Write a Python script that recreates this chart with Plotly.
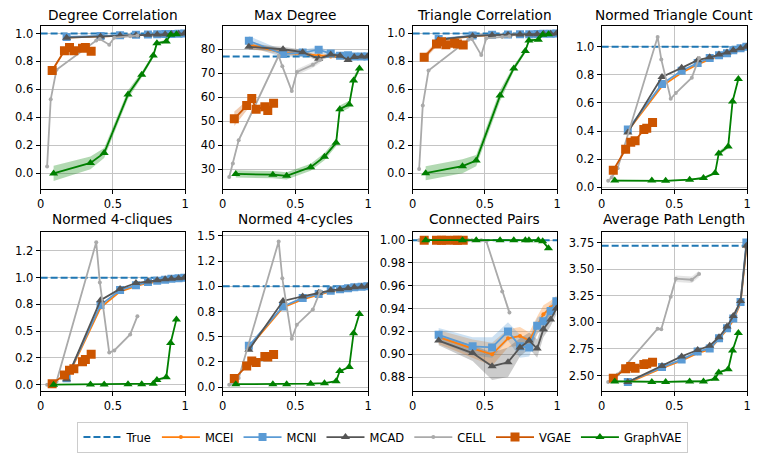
import plotly.graph_objects as go

# ---------------------------------------------------------------- x positions
X_MC = [0.18, 0.415, 0.55, 0.66, 0.743, 0.807, 0.862, 0.905, 0.955, 0.995]
X_CELL = [0.045, 0.07, 0.11, 0.385, 0.41, 0.475, 0.51, 0.62, 0.67]
X_VGAE = [0.08, 0.165, 0.2, 0.23, 0.29, 0.31, 0.35]
X_GVAE = [0.09, 0.345, 0.44, 0.605, 0.70, 0.78, 0.805, 0.87, 0.90, 0.94]

METHODS = ["MCEI", "MCNI", "MCAD", "CELL", "VGAE", "GraphVAE"]

# ---------------------------------------------------------- Degree Correlation
DC_TRUE = 1.0
DC_MCEI = [0.97, 0.98, 0.985, 0.99, 0.99, 0.993, 0.995, 0.997, 0.998, 0.999]
DC_MCNI = [0.975, 0.982, 0.988, 0.99, 0.992, 0.994, 0.996, 0.997, 0.998, 0.999]
DC_MCAD = [0.97, 0.978, 0.985, 0.988, 0.99, 0.993, 0.995, 0.997, 0.998, 0.999]
DC_CELL = [0.05, 0.53, 0.74, 0.95, 0.96, 0.92, 0.97, 0.98, 0.985]
DC_VGAE = [0.735, 0.877, 0.90, 0.877, 0.895, 0.90, 0.873]
DC_GVAE = [0.0, 0.075, 0.146, 0.564, 0.705, 0.842, 0.93, 0.943, 0.99, 0.995]
DC_GVAE_SD = [0.055, 0.045, 0.035, 0.03, 0.02, 0.015, 0.01, 0.01, 0.005, 0.005]
DC_VGAE_SD = [0.015, 0.012, 0.012, 0.012, 0.012, 0.012, 0.012]

# ------------------------------------------------------------------ Max Degree
MD_TRUE = 77.0
MD_MCEI = [82.0, 78.5, 78.0, 77.5, 77.0, 77.0, 76.5, 76.8, 77.0, 77.0]
MD_MCNI = [83.5, 78.0, 78.6, 79.8, 78.2, 77.3, 77.5, 77.0, 77.0, 77.0]
MD_MCAD = [81.0, 80.0, 78.8, 76.0, 77.8, 77.3, 75.5, 76.8, 77.0, 77.0]
MD_CELL = [26.7, 32.4, 42.0, 77.3, 72.9, 62.6, 70.5, 73.5, 75.5]
MD_VGAE = [51.0, 56.5, 59.5, 55.0, 56.0, 54.5, 57.5]
MD_GVAE = [28.0, 27.7, 27.2, 30.8, 35.2, 41.0, 55.0, 57.0, 67.0, 72.0]
MD_MCEI_SD = [1.5, 1.0, 1.0, 0.8, 0.8, 0.6, 0.6, 0.5, 0.5, 0.5]
MD_MCNI_SD = [2.0, 1.5, 1.2, 1.2, 1.0, 0.8, 0.8, 0.6, 0.6, 0.6]
MD_MCAD_SD = [1.2, 1.0, 1.0, 1.0, 0.8, 0.8, 0.8, 0.6, 0.6, 0.6]
MD_CELL_SD = [0.8, 0.8, 0.8, 1.0, 1.0, 1.0, 1.2, 1.2, 1.2]
MD_VGAE_SD = [3.0, 2.0, 1.5, 1.5, 1.5, 1.5, 1.5]
MD_GVAE_SD = [1.5, 1.5, 1.5, 1.5, 1.5, 1.5, 1.5, 1.5, 1.5, 1.0]

# -------------------------------------------------------- Triangle Correlation
TC_TRUE = 1.0
TC_MCEI = [0.955, 0.98, 0.988, 0.99, 0.992, 0.994, 0.996, 0.997, 0.998, 0.999]
TC_MCNI = [0.96, 0.985, 0.99, 0.992, 0.994, 0.995, 0.996, 0.997, 0.998, 0.999]
TC_MCAD = [0.955, 0.982, 0.988, 0.99, 0.992, 0.994, 0.995, 0.997, 0.998, 0.999]
TC_CELL = [0.03, 0.485, 0.735, 0.955, 0.96, 0.845, 0.965, 0.975, 0.98]
TC_VGAE = [0.83, 0.925, 0.94, 0.92, 0.93, 0.925, 0.918]
TC_GVAE = [0.0, 0.05, 0.09, 0.555, 0.75, 0.875, 0.95, 0.955, 0.99, 0.995]
TC_GVAE_SD = [0.05, 0.05, 0.04, 0.04, 0.02, 0.015, 0.01, 0.01, 0.005, 0.005]
TC_VGAE_SD = [0.02, 0.02, 0.02, 0.02, 0.02, 0.02, 0.02]

# ------------------------------------------------------ Normed Triangle Count
NTC_TRUE = 1.0
NTC_MCEI = [0.40, 0.72, 0.815, 0.875, 0.91, 0.935, 0.955, 0.97, 0.985, 0.995]
NTC_MCNI = [0.41, 0.735, 0.83, 0.885, 0.92, 0.94, 0.955, 0.975, 0.99, 1.0]
NTC_MCAD = [0.39, 0.785, 0.85, 0.905, 0.925, 0.945, 0.96, 0.975, 0.99, 1.0]
NTC_CELL = [0.045, 0.07, 0.135, 1.07, 0.91, 0.63, 0.67, 0.78, 0.92]
NTC_VGAE = [0.12, 0.27, 0.32, 0.33, 0.41, 0.42, 0.46]
NTC_GVAE = [0.047, 0.047, 0.045, 0.053, 0.065, 0.10, 0.24, 0.29, 0.61, 0.77]
NTC_GVAE_SD = [0.005, 0.005, 0.005, 0.005, 0.008, 0.01, 0.015, 0.015, 0.01, 0.01]

# ---------------------------------------------------------- Normed 4-cliques
N4C_TRUE = 1.0
N4C_MCEI = [0.05, 0.72, 0.87, 0.92, 0.95, 0.965, 0.975, 0.985, 0.99, 0.995]
N4C_MCNI = [0.06, 0.745, 0.885, 0.93, 0.96, 0.97, 0.98, 0.99, 0.995, 1.0]
N4C_MCAD = [0.05, 0.79, 0.895, 0.95, 0.965, 0.975, 0.985, 0.99, 0.995, 1.0]
N4C_CELL = [0.0, 0.005, 0.03, 1.33, 0.955, 0.30, 0.32, 0.47, 0.64]
N4C_VGAE = [0.01, 0.09, 0.135, 0.15, 0.215, 0.235, 0.285]
N4C_GVAE = [0.0, 0.003, 0.003, 0.004, 0.005, 0.01, 0.045, 0.07, 0.39, 0.61]

# ----------------------------------------------------------- Normed 4-cycles
N4Y_TRUE = 1.0
N4Y_MCEI = [0.39, 0.79, 0.87, 0.92, 0.95, 0.965, 0.978, 0.988, 0.994, 0.999]
N4Y_MCNI = [0.41, 0.80, 0.885, 0.925, 0.955, 0.97, 0.98, 0.99, 0.995, 1.0]
N4Y_MCAD = [0.37, 0.855, 0.90, 0.935, 0.96, 0.972, 0.982, 0.99, 0.995, 1.0]
N4Y_CELL = [0.025, 0.04, 0.09, 1.445, 1.08, 0.48, 0.62, 0.77, 0.95]
N4Y_VGAE = [0.085, 0.21, 0.26, 0.245, 0.305, 0.30, 0.325]
N4Y_GVAE = [0.03, 0.03, 0.03, 0.035, 0.04, 0.06, 0.16, 0.20, 0.535, 0.725]

# ----------------------------------------------------------- Connected Pairs
CP_TRUE = 1.0
CP_MCEI = [0.915, 0.905, 0.900, 0.914, 0.916, 0.912, 0.925, 0.935, 0.941, 0.946]
CP_MCNI = [0.917, 0.907, 0.906, 0.920, 0.907, 0.906, 0.925, 0.929, 0.938, 0.9465]
CP_MCAD = [0.912, 0.901, 0.8895, 0.893, 0.906, 0.912, 0.905, 0.922, 0.9305, 0.940]
CP_CELL = [1.0, 1.0, 1.0, 1.0, 1.0, 1.0, 0.999, 0.955, 0.9365]
CP_VGAE = [1.0, 1.0, 1.0, 1.0, 1.0, 1.0, 1.0]
CP_GVAE = [1.0, 1.0, 1.0, 1.0, 1.0, 1.0, 1.0, 1.0, 0.999, 0.993]
CP_MCEI_SD = [0.006, 0.008, 0.010, 0.008, 0.008, 0.007, 0.008, 0.008, 0.006, 0.005]
CP_MCNI_SD = [0.006, 0.008, 0.009, 0.008, 0.010, 0.008, 0.007, 0.007, 0.006, 0.005]
CP_MCAD_SD = [0.004, 0.007, 0.012, 0.013, 0.008, 0.007, 0.008, 0.007, 0.006, 0.005]
CP_CELL_SD = [0.0005, 0.0005, 0.0005, 0.0005, 0.0005, 0.0005, 0.001, 0.002, 0.003]

# ------------------------------------------------------- Average Path Length
APL_TRUE = 3.72
APL_MCEI = [2.43, 2.57, 2.64, 2.71, 2.745, 2.84, 2.93, 3.02, 3.18, 3.70]
APL_MCNI = [2.44, 2.58, 2.65, 2.725, 2.755, 2.85, 2.945, 3.035, 3.19, 3.75]
APL_MCAD = [2.44, 2.59, 2.68, 2.74, 2.78, 2.86, 2.96, 3.06, 3.20, 3.72]
APL_CELL = [2.44, 2.46, 2.51, 2.94, 2.935, 3.24, 3.41, 3.40, 3.455]
APL_VGAE = [2.475, 2.565, 2.585, 2.57, 2.605, 2.61, 2.625]
APL_GVAE = [2.445, 2.44, 2.44, 2.445, 2.445, 2.47, 2.53, 2.56, 2.735, 2.90]
APL_CELL_SD = [0.005, 0.005, 0.01, 0.01, 0.01, 0.02, 0.03, 0.03, 0.03]
APL_GVAE_SD = [0.01, 0.01, 0.01, 0.01, 0.01, 0.01, 0.01, 0.01, 0.01, 0.01]

# ------------------------------------------------------------ tick labels
X_TICKS = [0, 0.5, 1]
X_TICK_TEXT = ["0", "0.5", "1"]
UNIT_TICKS = [0.0, 0.2, 0.4, 0.6, 0.8, 1.0]
UNIT_TICK_TEXT = ["0.0", "0.2", "0.4", "0.6", "0.8", "1.0"]
MD_TICKS = [30, 40, 50, 60, 70, 80]
MD_TICK_TEXT = ["30", "40", "50", "60", "70", "80"]
N4C_TICKS = [0.0, 0.25, 0.5, 0.75, 1.0, 1.25]
N4C_TICK_TEXT = ["0.0", "0.2", "0.5", "0.8", "1.0", "1.2"]
N4Y_TICKS = [0.0, 0.25, 0.5, 0.75, 1.0, 1.25, 1.5]
N4Y_TICK_TEXT = ["0.0", "0.2", "0.5", "0.8", "1.0", "1.2", "1.5"]
CP_TICKS = [0.88, 0.90, 0.92, 0.94, 0.96, 0.98, 1.00]
CP_TICK_TEXT = ["0.88", "0.90", "0.92", "0.94", "0.96", "0.98", "1.00"]
APL_TICKS = [2.5, 2.75, 3.0, 3.25, 3.5, 3.75]
APL_TICK_TEXT = ["2.50", "2.75", "3.00", "3.25", "3.50", "3.75"]

# ------------------------------------------------------------------ styling
FONT = "DejaVu Sans"
STYLE = {
    "MCEI": dict(color="#ff7f0e", fill="rgba(255,127,14,0.3)", symbol="circle", size=4),
    "MCNI": dict(color="#5b9bd5", fill="rgba(91,155,213,0.3)", symbol="square", size=8),
    "MCAD": dict(color="#555555", fill="rgba(85,85,85,0.3)", symbol="triangle-up", size=8),
    "CELL": dict(color="#aaaaaa", fill="rgba(170,170,170,0.3)", symbol="circle", size=4),
    "VGAE": dict(color="#cc5500", fill="rgba(204,85,0,0.3)", symbol="square", size=9),
    "GraphVAE": dict(color="#008000", fill="rgba(0,128,0,0.3)", symbol="triangle-up", size=8),
}
TRUE_COLOR = "#1f77b4"
X_BY_METHOD = {"MCEI": X_MC, "MCNI": X_MC, "MCAD": X_MC,
               "CELL": X_CELL, "VGAE": X_VGAE, "GraphVAE": X_GVAE}

PANELS = [
    dict(title="Degree Correlation", true=DC_TRUE,
         ys=[DC_MCEI, DC_MCNI, DC_MCAD, DC_CELL, DC_VGAE, DC_GVAE],
         sds=[None, None, None, None, DC_VGAE_SD, DC_GVAE_SD],
         yrange=[-0.11, 1.05], ticks=UNIT_TICKS, ticktext=UNIT_TICK_TEXT),
    dict(title="Max Degree", true=MD_TRUE,
         ys=[MD_MCEI, MD_MCNI, MD_MCAD, MD_CELL, MD_VGAE, MD_GVAE],
         sds=[MD_MCEI_SD, MD_MCNI_SD, MD_MCAD_SD, MD_CELL_SD, MD_VGAE_SD, MD_GVAE_SD],
         yrange=[21.8, 89.5], ticks=MD_TICKS, ticktext=MD_TICK_TEXT),
    dict(title="Triangle Correlation", true=TC_TRUE,
         ys=[TC_MCEI, TC_MCNI, TC_MCAD, TC_CELL, TC_VGAE, TC_GVAE],
         sds=[None, None, None, None, TC_VGAE_SD, TC_GVAE_SD],
         yrange=[-0.112, 1.05], ticks=UNIT_TICKS, ticktext=UNIT_TICK_TEXT),
    dict(title="Normed Triangle Count", true=NTC_TRUE,
         ys=[NTC_MCEI, NTC_MCNI, NTC_MCAD, NTC_CELL, NTC_VGAE, NTC_GVAE],
         sds=[None, None, None, None, None, NTC_GVAE_SD],
         yrange=[-0.012, 1.145], ticks=UNIT_TICKS, ticktext=UNIT_TICK_TEXT),
    dict(title="Normed 4-cliques", true=N4C_TRUE,
         ys=[N4C_MCEI, N4C_MCNI, N4C_MCAD, N4C_CELL, N4C_VGAE, N4C_GVAE],
         sds=[None] * 6,
         yrange=[-0.061, 1.428], ticks=N4C_TICKS, ticktext=N4C_TICK_TEXT),
    dict(title="Normed 4-cycles", true=N4Y_TRUE,
         ys=[N4Y_MCEI, N4Y_MCNI, N4Y_MCAD, N4Y_CELL, N4Y_VGAE, N4Y_GVAE],
         sds=[None] * 6,
         yrange=[-0.04, 1.54], ticks=N4Y_TICKS, ticktext=N4Y_TICK_TEXT),
    dict(title="Connected Pairs", true=CP_TRUE,
         ys=[CP_MCEI, CP_MCNI, CP_MCAD, CP_CELL, CP_VGAE, CP_GVAE],
         sds=[CP_MCEI_SD, CP_MCNI_SD, CP_MCAD_SD, CP_CELL_SD, None, None],
         yrange=[0.8676, 1.0073], ticks=CP_TICKS, ticktext=CP_TICK_TEXT),
    dict(title="Average Path Length", true=APL_TRUE,
         ys=[APL_MCEI, APL_MCNI, APL_MCAD, APL_CELL, APL_VGAE, APL_GVAE],
         sds=[None, None, None, APL_CELL_SD, None, APL_GVAE_SD],
         yrange=[2.353, 3.85], ticks=APL_TICKS, ticktext=APL_TICK_TEXT),
]

# subplot frames in page pixels (760 x 453)
W, H = 760, 453
COL_PX = [(37, 183), (221, 368), (413, 559), (604, 751)]
ROW_PX = [(24, 190), (234, 397)]
TITLE_Y_PX = [12, 221]

fig = go.Figure()
layout = dict(
    width=W, height=H,
    margin=dict(l=0, r=0, t=0, b=0),
    paper_bgcolor="white", plot_bgcolor="white",
    font=dict(family=FONT, color="black", size=11.5),
    showlegend=True,
    annotations=[],
)

for i, p in enumerate(PANELS):
    r, c = divmod(i, 4)
    n = "" if i == 0 else str(i + 1)
    xa, ya = "x" + n, "y" + n
    x0, x1 = COL_PX[c]
    y0, y1 = ROW_PX[r]
    xdom = [x0 / W, x1 / W]
    ydom = [1 - y1 / H, 1 - y0 / H]
    axis_common = dict(showline=True, mirror=True, linecolor="black", linewidth=1,
                       ticks="outside", ticklen=4, tickwidth=1, tickcolor="black",
                       showgrid=True, gridcolor="#c4c4c4", gridwidth=1,
                       zeroline=False, tickfont=dict(size=11.5, family=FONT))
    layout["xaxis" + n] = dict(domain=xdom, range=[0, 1], anchor=ya,
                               tickmode="array", tickvals=X_TICKS, ticktext=X_TICK_TEXT,
                               **axis_common)
    layout["yaxis" + n] = dict(domain=ydom, range=p["yrange"], anchor=xa,
                               tickmode="array", tickvals=p["ticks"], ticktext=p["ticktext"],
                               **axis_common)
    layout["annotations"].append(dict(
        text=p["title"], xref="paper", yref="paper",
        x=(xdom[0] + xdom[1]) / 2, y=1 - TITLE_Y_PX[r] / H,
        xanchor="center", yanchor="middle", showarrow=False,
        font=dict(size=13.7, family=FONT, color="black")))

    # shaded spread bands underneath every line
    for m, ys, sd in zip(METHODS, p["ys"], p["sds"]):
        if sd is None:
            continue
        xs = X_BY_METHOD[m]
        upper = [v + s for v, s in zip(ys, sd)]
        lower = [v - s for v, s in zip(ys, sd)]
        fig.add_trace(go.Scatter(
            x=xs + xs[::-1], y=upper + lower[::-1], xaxis=xa, yaxis=ya,
            mode="lines", fill="toself", fillcolor=STYLE[m]["fill"],
            line=dict(width=0), hoverinfo="skip", showlegend=False))

    # reference value
    fig.add_trace(go.Scatter(
        x=[0, 1], y=[p["true"], p["true"]], xaxis=xa, yaxis=ya,
        mode="lines", name="True", legendgroup="True", showlegend=(i == 0),
        line=dict(color=TRUE_COLOR, width=2, dash="7px,3px")))

    for m, ys in zip(METHODS, p["ys"]):
        st = STYLE[m]
        fig.add_trace(go.Scatter(
            x=X_BY_METHOD[m], y=ys, xaxis=xa, yaxis=ya,
            mode="lines+markers", name=m, legendgroup=m, showlegend=(i == 0),
            line=dict(color=st["color"], width=1.8),
            marker=dict(color=st["color"], symbol=st["symbol"], size=st["size"])))

layout["legend"] = dict(
    orientation="h", x=383 / W, y=1 - 428 / H, xanchor="center", yanchor="top",
    bgcolor="white", bordercolor="#cccccc", borderwidth=1,
    font=dict(size=11.5, family=FONT), itemwidth=38, traceorder="normal")

fig.update_layout(**layout)
fig.write_html("out.html")
